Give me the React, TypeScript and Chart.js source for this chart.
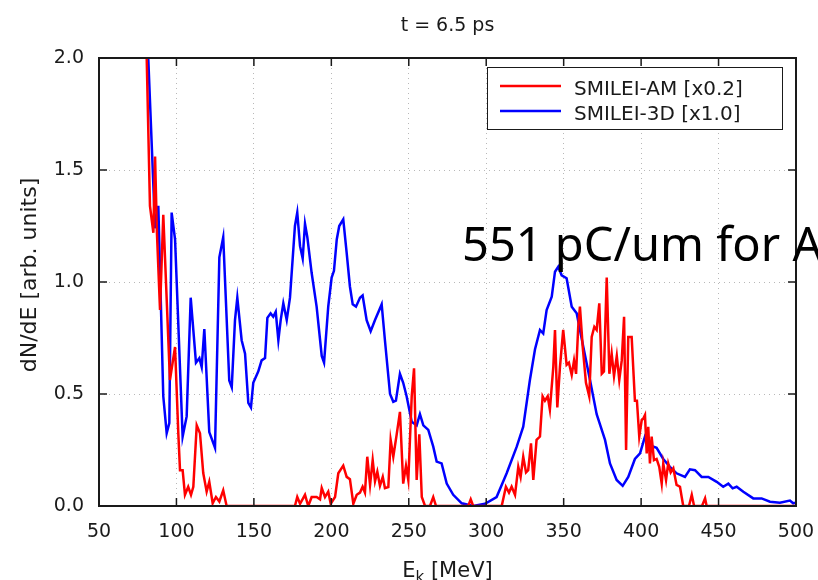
import React, { useEffect, useRef } from 'react';
import { Chart, registerables } from 'chart.js';

Chart.register(...registerables);

const TITLE = 't = 6.5 ps';
const Y_TITLE = 'dN/dE [arb. units]';
const X_TITLE_MAIN = 'E';
const X_TITLE_SUB = 'k';
const X_TITLE_REST = ' [MeV]';
const NOTE = '551 pC/um for A';

const SERIES_LABELS = ['SMILEI-AM [x0.2]', 'SMILEI-3D [x1.0]'];
const SERIES_COLORS = ['#ff0000', '#0000ff'];

const X_MIN = 50;
const X_MAX = 500;
const X_STEP = 50;
const Y_MIN = 0;
const Y_MAX = 2;
const Y_STEP = 0.5;

// SMILEI-3D [x1.0] : energy (MeV)
const blueE = [
  79, 81.8, 86.2, 88.3, 91.5, 93.7, 95.4, 96.9, 99.1, 104.0,
  106.6, 109.2, 112.6, 114.8, 116.3, 118.0, 121.2, 124.9, 127.7, 130.2,
  134.1, 135.7, 137.8, 139.3, 142.1, 144.3, 146.4, 148.1, 149.6, 152.8,
  155.0, 157.2, 158.7, 160.8, 162.5, 164.1, 165.8, 167.3, 169.0, 171.2,
  173.3, 175.0, 176.5, 178.0, 179.8, 181.5, 183.0, 184.5, 187.3, 190.5,
  193.8, 195.3, 198.0, 200.2, 201.7, 203.5, 205.1, 207.7, 209.9, 212.0,
  213.8, 215.9, 218.5, 220.2, 222.8, 225.4, 228.2, 232.5, 234.6, 237.9,
  240.0, 241.7, 244.3, 246.4, 248.6, 251.9, 255.1, 257.2, 259.4, 262.6,
  265.8, 268.0, 271.2, 274.5, 278.7, 284.2, 291.6, 299.2, 306.7, 313.2,
  319.7, 323.9, 328.2, 331.5, 334.7, 336.8, 339.0, 342.3, 344.4, 346.5,
  348.7, 351.9, 355.2, 358.4, 362.7, 367.0, 371.3, 376.7, 379.9, 384.2,
  388.1, 391.7, 396.0, 399.3, 402.5, 405.7, 410.0, 414.3, 418.6, 422.9,
  428.3, 431.5, 434.8, 439.1, 443.4, 448.8, 453.0, 456.3, 459.1, 461.7,
  466.0, 472.4, 477.8, 483.2, 489.6, 496.1, 498.2, 500,
];
// SMILEI-3D [x1.0] : dN/dE
const blueV = [
  2.48, 2.0, 1.24, 1.34, 0.49, 0.325, 0.37, 1.31, 1.19, 0.31,
  0.40, 0.93, 0.64, 0.66, 0.62, 0.79, 0.33, 0.26, 1.11, 1.20,
  0.56, 0.53, 0.83, 0.93, 0.74, 0.68, 0.46, 0.44, 0.55, 0.60,
  0.65, 0.66, 0.84, 0.86, 0.845, 0.867, 0.74, 0.83, 0.905, 0.83,
  0.93, 1.10, 1.25, 1.31, 1.16, 1.105, 1.26, 1.20, 1.04, 0.89,
  0.67, 0.64, 0.89, 1.02, 1.05, 1.19, 1.25, 1.28, 1.13, 0.98,
  0.90, 0.89, 0.93, 0.94, 0.83, 0.78, 0.83, 0.90, 0.74, 0.50,
  0.465, 0.47, 0.59, 0.55, 0.49, 0.376, 0.36, 0.41, 0.36, 0.34,
  0.265, 0.198, 0.19, 0.10, 0.05, 0.012, 0.0, 0.01, 0.04, 0.146,
  0.265, 0.354, 0.5625, 0.70, 0.786, 0.77, 0.875, 0.934, 1.046, 1.068,
  1.03, 1.017, 0.89, 0.86, 0.71, 0.5625, 0.41, 0.295, 0.19, 0.116,
  0.09, 0.13, 0.21, 0.235, 0.31, 0.27, 0.26, 0.21, 0.175, 0.146,
  0.13, 0.164, 0.16, 0.13, 0.13, 0.108, 0.086, 0.10, 0.079, 0.086,
  0.064, 0.034, 0.034, 0.019, 0.015, 0.024, 0.012, 0.015,
];

// SMILEI-AM [x0.2] : energy (MeV)
const redE = [
  79, 80.8, 82.9, 85.1, 86.2, 87.4, 89.4, 91.5, 95.8, 99.1,
  101.2, 102.3, 104.0, 105.5, 107.6, 109.4, 110.9, 113.1, 115.2, 117.3,
  119.5, 121.2, 123.4, 125.5, 127.7, 130.2, 132.4, 176.5, 178.0, 179.8,
  183.0, 185.1, 187.3, 190.5, 192.7, 193.8, 195.9, 198.0, 199.6, 202.4,
  204.5, 207.7, 209.9, 212.0, 214.2, 216.4, 218.5, 220.2, 221.7, 223.2,
  225.0, 226.7, 228.2, 229.7, 231.4, 233.2, 234.6, 236.8, 238.3, 240.0,
  242.2, 244.3, 246.4, 248.2, 249.7, 251.9, 253.4, 255.1, 256.8, 258.4,
  260.5, 263.7, 265.8, 267.6, 288.4, 290.0, 291.6, 310.0, 312.7, 314.7,
  316.4, 318.6, 320.7, 322.2, 323.9, 325.7, 327.1, 328.9, 330.4, 332.5,
  334.7, 336.4, 337.9, 339.7, 341.1, 343.3, 344.4, 345.9, 347.6, 349.7,
  351.9, 353.4, 355.2, 356.7, 358.0, 359.4, 360.5, 362.3, 364.4, 366.5,
  368.1, 369.8, 371.3, 373.0, 374.6, 376.0, 377.8, 379.5, 381.0, 382.5,
  384.3, 385.9, 387.5, 389.0, 390.3, 391.7, 393.9, 396.0, 397.3, 398.8,
  400.4, 401.4, 402.5, 403.6, 404.6, 405.7, 406.8, 408.3, 410.0, 411.7,
  413.3, 414.3, 416.1, 417.5, 419.1, 420.8, 422.9, 425.1, 426.2, 427.2,
  430.9, 432.7, 434.2, 439.3, 441.3, 442.3, 500,
];
// SMILEI-AM [x0.2] : dN/dE
const redV = [
  2.56, 2.0, 1.34, 1.22, 1.56, 1.22, 0.875, 1.30, 0.5625, 0.71,
  0.325, 0.16, 0.16, 0.05, 0.086, 0.05, 0.086, 0.36, 0.325, 0.147,
  0.064, 0.108, 0.012, 0.04, 0.02, 0.07, 0.0, 0.0, 0.04, 0.01,
  0.05, 0.0, 0.04, 0.04, 0.03, 0.08, 0.04, 0.064, 0.01, 0.04,
  0.146, 0.18, 0.13, 0.12, 0.01, 0.05, 0.06, 0.086, 0.06, 0.22,
  0.094, 0.205, 0.11, 0.153, 0.09, 0.13, 0.08, 0.085, 0.295, 0.22,
  0.32, 0.42, 0.10, 0.18, 0.116, 0.49, 0.615, 0.116, 0.32, 0.04,
  0.0, 0.0, 0.04, 0.0, 0.0, 0.03, 0.0, 0.0, 0.086, 0.06,
  0.086, 0.05, 0.175, 0.13, 0.22, 0.15, 0.16, 0.28, 0.116, 0.295,
  0.31, 0.49, 0.47, 0.49, 0.43, 0.62, 0.786, 0.44, 0.62, 0.786,
  0.63, 0.64, 0.585, 0.65, 0.59, 0.80, 0.89, 0.71, 0.55, 0.49,
  0.755, 0.80, 0.786, 0.905, 0.59, 0.60, 1.02, 0.59, 0.68, 0.58,
  0.67, 0.5625, 0.65, 0.845, 0.25, 0.755, 0.755, 0.47, 0.47, 0.31,
  0.384, 0.39, 0.406, 0.235, 0.354, 0.19, 0.31, 0.205, 0.21, 0.175,
  0.10, 0.19, 0.116, 0.19, 0.15, 0.168, 0.094, 0.086, 0.04, 0.0,
  0.0, 0.05, 0.0, 0.0, 0.034, 0.0, 0.0,
];

const toPoints = (xs: number[], ys: number[]) =>
  xs.map((x, i) => ({ x, y: ys[i] }));

const FONT = '"DejaVu Sans", sans-serif';
const INK = '#1a1a1a';

const decorPlugin = {
  id: 'decor',
  afterDatasetsDraw(chart: any) {
    const { ctx, chartArea: a, scales } = chart;
    const xs = scales.x;
    const ys = scales.y;
    ctx.save();

    // frame
    ctx.strokeStyle = INK;
    ctx.lineWidth = 2;
    ctx.strokeRect(a.left, a.top, a.right - a.left, a.bottom - a.top);

    // inward ticks on all four sides
    ctx.lineWidth = 1.5;
    const tl = 8;
    ctx.beginPath();
    xs.ticks.forEach((t: any) => {
      const px = xs.getPixelForValue(t.value);
      ctx.moveTo(px, a.bottom);
      ctx.lineTo(px, a.bottom - tl);
      ctx.moveTo(px, a.top);
      ctx.lineTo(px, a.top + tl);
    });
    ys.ticks.forEach((t: any) => {
      const py = ys.getPixelForValue(t.value);
      ctx.moveTo(a.left, py);
      ctx.lineTo(a.left + tl, py);
      ctx.moveTo(a.right, py);
      ctx.lineTo(a.right - tl, py);
    });
    ctx.stroke();

    // legend
    const lx = 487, ly = 67, lw = 295, lh = 62;
    ctx.fillStyle = '#ffffff';
    ctx.fillRect(lx, ly, lw, lh);
    ctx.lineWidth = 1;
    ctx.strokeStyle = INK;
    ctx.strokeRect(lx + 0.5, ly + 0.5, lw, lh);
    const rows = [86, 111];
    SERIES_LABELS.forEach((lab, i) => {
      ctx.strokeStyle = SERIES_COLORS[i];
      ctx.lineWidth = 2.5;
      ctx.beginPath();
      ctx.moveTo(500, rows[i]);
      ctx.lineTo(561, rows[i]);
      ctx.stroke();
      ctx.fillStyle = INK;
      ctx.font = `20px ${FONT}`;
      ctx.textAlign = 'left';
      ctx.textBaseline = 'alphabetic';
      ctx.fillText(lab, 574, rows[i] + 9);
    });

    // chart title
    const cx = (a.left + a.right) / 2;
    ctx.fillStyle = INK;
    ctx.font = `19px ${FONT}`;
    ctx.textAlign = 'center';
    ctx.textBaseline = 'alphabetic';
    ctx.fillText(TITLE, cx, 31);

    // x axis title with subscript
    ctx.textAlign = 'left';
    ctx.font = `21px ${FONT}`;
    const wE = ctx.measureText(X_TITLE_MAIN).width;
    const wR = ctx.measureText(X_TITLE_REST).width;
    ctx.font = `15px ${FONT}`;
    const wk = ctx.measureText(X_TITLE_SUB).width;
    const x0 = cx - (wE + wk + wR) / 2;
    ctx.font = `21px ${FONT}`;
    ctx.fillText(X_TITLE_MAIN, x0, 577);
    ctx.font = `15px ${FONT}`;
    ctx.fillText(X_TITLE_SUB, x0 + wE, 582);
    ctx.font = `21px ${FONT}`;
    ctx.fillText(X_TITLE_REST, x0 + wE + wk, 577);

    // y axis title
    ctx.translate(36, (a.top + a.bottom) / 2 - 7);
    ctx.rotate(-Math.PI / 2);
    ctx.textAlign = 'center';
    ctx.font = `22px ${FONT}`;
    ctx.fillText(Y_TITLE, 0, 0);

    ctx.restore();
  },
};

export default function App() {
  const ref = useRef<HTMLCanvasElement | null>(null);

  useEffect(() => {
    if (!ref.current) return;
    const chart = new Chart(ref.current, {
      type: 'line',
      data: {
        datasets: [
          {
            label: SERIES_LABELS[0],
            data: toPoints(redE, redV),
            borderColor: SERIES_COLORS[0],
            borderWidth: 2.5,
            pointRadius: 0,
            tension: 0,
            fill: false,
          },
          {
            label: SERIES_LABELS[1],
            data: toPoints(blueE, blueV),
            borderColor: SERIES_COLORS[1],
            borderWidth: 2.5,
            pointRadius: 0,
            tension: 0,
            fill: false,
          },
        ],
      },
      options: {
        animation: false,
        responsive: false,
        devicePixelRatio: 1,
        parsing: false,
        layout: { padding: { left: 0, top: 58, right: 22, bottom: 0 } },
        plugins: {
          legend: { display: false },
          title: { display: false },
          tooltip: { enabled: false },
        },
        scales: {
          x: {
            type: 'linear',
            min: X_MIN,
            max: X_MAX,
            ticks: {
              stepSize: X_STEP,
              autoSkip: false,
              maxRotation: 0,
              padding: 15,
              color: INK,
              font: { family: FONT, size: 19 },
            },
            grid: { color: '#b8b8b8', lineWidth: 1, drawTicks: false },
            border: { display: false, dash: [1, 4] },
            afterFit: (s: any) => {
              s.height = 74;
              s.paddingLeft = 0;
              s.paddingRight = 0;
            },
          },
          y: {
            type: 'linear',
            min: Y_MIN,
            max: Y_MAX,
            ticks: {
              stepSize: Y_STEP,
              padding: 15,
              color: INK,
              font: { family: FONT, size: 19 },
              callback: (v: any) => Number(v).toFixed(1),
            },
            grid: { color: '#b8b8b8', lineWidth: 1, drawTicks: false },
            border: { display: false, dash: [1, 4] },
            afterFit: (s: any) => {
              s.width = 99;
              s.paddingTop = 0;
              s.paddingBottom = 0;
            },
          },
        },
      },
      plugins: [decorPlugin],
    });
    return () => chart.destroy();
  }, []);

  return (
    <div
      style={{
        position: 'fixed',
        left: 0,
        top: 0,
        width: 818,
        height: 580,
        overflow: 'hidden',
        background: '#ffffff',
      }}
    >
      <canvas ref={ref} width={818} height={580} style={{ width: 818, height: 580, display: 'block' }} />
      <div
        style={{
          position: 'absolute',
          left: 462,
          top: 220,
          fontFamily: '"Noto Sans", sans-serif',
          fontSize: 47,
          lineHeight: '47px',
          whiteSpace: 'nowrap',
          color: '#000',
        }}
      >
        {NOTE}
      </div>
    </div>
  );
}
